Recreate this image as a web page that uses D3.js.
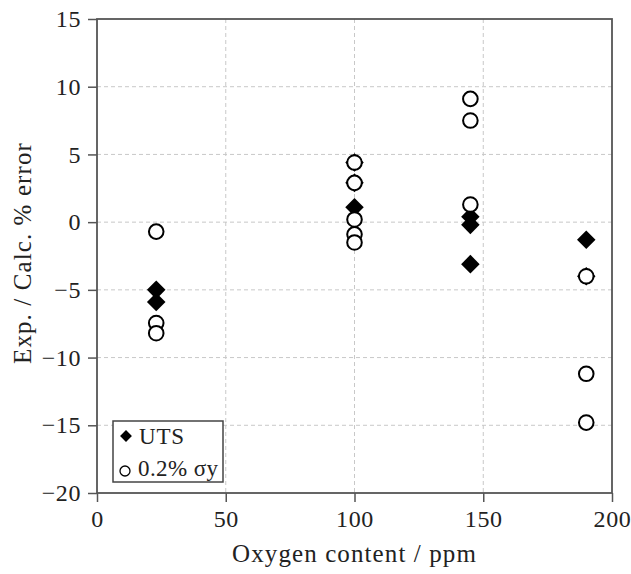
<!DOCTYPE html>
<html>
<head>
<meta charset="utf-8">
<script src="https://cdn.jsdelivr.net/npm/d3@7"></script>
<style>
  body { margin: 0; background: #fff; }
</style>
</head>
<body>
<div id="wrapper"></div>
<script>
// data
const utsX = [23, 23, 100, 100, 100, 145, 145, 145, 190, 190]
const utsY = [-5.0, -5.9, 4.4, 2.9, 1.1, 0.4, -0.2, -3.1, -1.3, -4.0]
const ysX = [23, 23, 23, 100, 100, 100, 100, 100, 145, 145, 145, 190, 190, 190]
const ysY = [-0.7, -7.45, -8.2, 4.4, 2.9, 0.2, -0.9, -1.5, 9.1, 7.5, 1.3, -4.0, -11.2, -14.8]
const xTicks = [0, 50, 100, 150, 200]
const yTicks = [15, 10, 5, 0, -5, -10, -15, -20]

const serif = "'Liberation Serif', 'Times New Roman', serif"

const dimensions = {
  width: 631,
  height: 574,
  margin: { top: 19, right: 19, bottom: 81, left: 97 },
}
dimensions.boundedWidth = dimensions.width - dimensions.margin.left - dimensions.margin.right
dimensions.boundedHeight = dimensions.height - dimensions.margin.top - dimensions.margin.bottom

const wrapper = d3.select("#wrapper")
  .append("svg")
    .attr("width", dimensions.width)
    .attr("height", dimensions.height)
    .attr("font-family", serif)

const bounds = wrapper.append("g")
  .attr("transform", `translate(${dimensions.margin.left},${dimensions.margin.top})`)

const xScale = d3.scaleLinear().domain([0, 200]).range([0, dimensions.boundedWidth])
const yScale = d3.scaleLinear().domain([-20, 15]).range([dimensions.boundedHeight, 0])

// grid
bounds.append("g").selectAll("line")
  .data(xTicks.slice(1, -1))
  .join("line")
    .attr("x1", d => xScale(d)).attr("x2", d => xScale(d))
    .attr("y1", 0).attr("y2", dimensions.boundedHeight)
    .attr("stroke", "#c8c8c8").attr("stroke-dasharray", "4,3")
bounds.append("g").selectAll("line")
  .data(yTicks.slice(1, -1))
  .join("line")
    .attr("y1", d => yScale(d)).attr("y2", d => yScale(d))
    .attr("x1", 0).attr("x2", dimensions.boundedWidth)
    .attr("stroke", "#c8c8c8").attr("stroke-dasharray", "4,3")

// axes
const xAxis = bounds.append("g")
  .attr("transform", `translate(0,${dimensions.boundedHeight})`)
  .call(d3.axisBottom(xScale).tickValues(xTicks).tickSize(9).tickSizeOuter(0).tickPadding(8))
const yAxis = bounds.append("g")
  .call(d3.axisLeft(yScale).tickValues(yTicks).tickSize(9).tickSizeOuter(0).tickPadding(7))
;[xAxis, yAxis].forEach(a => {
  a.attr("font-family", serif).attr("font-size", 24)
  a.select(".domain").remove()
  a.selectAll("line").attr("stroke", "#555").attr("stroke-width", 1.5)
  a.selectAll("text").attr("fill", "#222").attr("letter-spacing", 0.6)
})

// frame
bounds.append("rect")
  .attr("width", dimensions.boundedWidth)
  .attr("height", dimensions.boundedHeight)
  .attr("fill", "none")
  .attr("stroke", "#555")
  .attr("stroke-width", 1.8)

// labels
wrapper.append("text")
  .attr("x", dimensions.margin.left + dimensions.boundedWidth / 2)
  .attr("y", 562)
  .attr("text-anchor", "middle")
  .attr("font-size", 25)
  .attr("letter-spacing", 1.1)
  .attr("fill", "#222")
  .text("Oxygen content / ppm")

wrapper.append("text")
  .attr("transform", `translate(31,253) rotate(-90)`)
  .attr("text-anchor", "middle")
  .attr("font-size", 25)
  .attr("letter-spacing", 1.1)
  .attr("fill", "#222")
  .text("Exp. / Calc. % error")

// points: UTS diamonds first, yield circles (white fill) on top
const diamond = d3.symbol().type(d3.symbolSquare).size(172)
bounds.append("g").selectAll("path")
  .data(d3.range(utsX.length))
  .join("path")
    .attr("d", diamond)
    .attr("transform", i => `translate(${xScale(utsX[i])},${yScale(utsY[i])}) rotate(45)`)
    .attr("fill", "#000")

bounds.append("g").selectAll("circle")
  .data(d3.range(ysX.length))
  .join("circle")
    .attr("cx", i => xScale(ysX[i]))
    .attr("cy", i => yScale(ysY[i]))
    .attr("r", 7.3)
    .attr("fill", "#fff")
    .attr("stroke", "#000")
    .attr("stroke-width", 2)

// legend
const legend = wrapper.append("g").attr("transform", "translate(113,421)")
legend.append("rect")
  .attr("width", 110).attr("height", 61)
  .attr("fill", "#fff").attr("stroke", "#444").attr("stroke-width", 1.5)
legend.append("path")
  .attr("d", d3.symbol().type(d3.symbolSquare).size(70))
  .attr("transform", "translate(13,15) rotate(45)")
legend.append("text").attr("x", 26).attr("y", 23).attr("font-size", 23).attr("letter-spacing", 0.8).attr("fill", "#222").text("UTS")
legend.append("circle")
  .attr("cx", 12).attr("cy", 50).attr("r", 5)
  .attr("fill", "#fff").attr("stroke", "#000").attr("stroke-width", 1.3)
legend.append("text").attr("x", 25).attr("y", 55).attr("font-size", 23).attr("letter-spacing", 0.4).attr("fill", "#222").text("0.2% σy")
</script>
</body>
</html>
